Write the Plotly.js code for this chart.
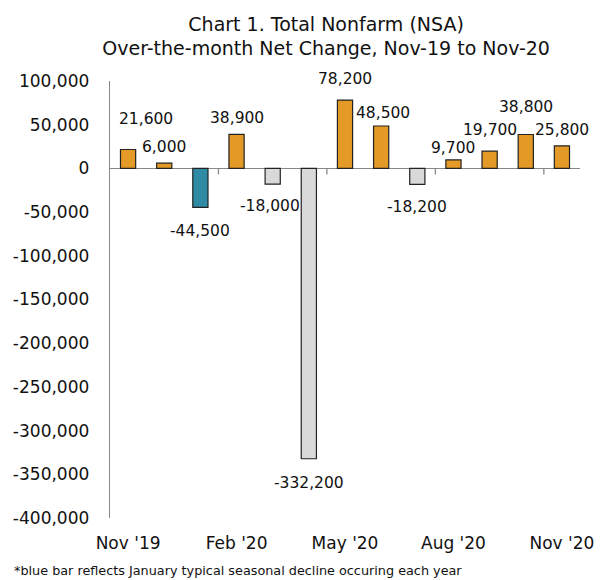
<!DOCTYPE html>
<html>
<head>
<meta charset="utf-8">
<script src="https://cdn.plot.ly/plotly-3.0.1.min.js"></script>
<style>html,body{margin:0;padding:0;background:#fff;}#chart{width:605px;height:580px;}</style>
</head>
<body>
<div id="chart"></div>
<script>
// Data
const months = ["Nov '19","Dec '19","Jan '20","Feb '20","Mar '20","Apr '20","May '20","Jun '20","Jul '20","Aug '20","Sep '20","Oct '20","Nov '20"];
const netChange = [21600, 6000, -44500, 38900, -18000, -332200, 78200, 48500, -18200, 9700, 19700, 38800, 25800];
const tickLabels = ["Nov '19","Feb '20","May '20","Aug '20","Nov '20"];
const yTicks = [100000, 50000, 0, -50000, -100000, -150000, -200000, -250000, -300000, -350000, -400000];

// Styling
const FONT = "DejaVu Sans";
const ORANGE = "#E39A26", BLUE = "#2F8AA4", GRAY = "#D9D9D9";
const colors = months.map((m, i) => netChange[i] >= 0 ? ORANGE : (m.startsWith("Jan") ? BLUE : GRAY));
// label offsets in pixels [dx, dy] from the end of each bar
const labelOffsets = [[18,31],[0,16],[0,-24],[0,16],[-3,-22],[0,-24],[0,21],[2,13],[0,-23],[0,12],[0,21],[0,27],[0,16]];

const fmt = v => v.toLocaleString("en-US");

const trace = {
  type: "bar",
  x: months,
  y: netChange,
  marker: { color: colors, line: { color: "#222", width: 1.2 } },
  hoverinfo: "x+y"
};

const annotations = months.map((m, i) => ({
  x: i, y: netChange[i], xref: "x", yref: "y",
  text: fmt(netChange[i]), showarrow: false,
  xanchor: "center", yanchor: "middle",
  xshift: labelOffsets[i][0], yshift: labelOffsets[i][1],
  font: { family: FONT, size: 15.5, color: "#111" }
}));
annotations.push({
  xref: "paper", yref: "paper", x: -0.208, y: -0.119,
  xanchor: "left", yanchor: "middle", showarrow: false,
  text: "*blue bar reflects January typical seasonal decline occuring each year",
  font: { family: FONT, size: 12.8, color: "#111" }
});

const shapes = [];
for (let i = 3; i < months.length; i += 3) {
  shapes.push({
    type: "line", xref: "x", yref: "y", x0: i - 0.5, x1: i - 0.5,
    ysizemode: "pixel", yanchor: 0, y0: 0, y1: -6,
    line: { color: "#888", width: 1.3 }
  });
}

const layout = {
  width: 605, height: 580,
  margin: { l: 110, r: 25, t: 81, b: 62 },
  paper_bgcolor: "#fff", plot_bgcolor: "#fff",
  showlegend: false,
  bargap: 0.58,
  font: { family: FONT, color: "#111" },
  title: {
    text: "Chart 1. Total Nonfarm (NSA)<br>Over-the-month Net Change, Nov-19 to Nov-20",
    x: 0.539, xref: "container", xanchor: "center",
    y: 0.947, yref: "container", yanchor: "top",
    font: { family: FONT, size: 19, color: "#111" }
  },
  xaxis: {
    type: "category",
    categoryorder: "array", categoryarray: months,
    tickmode: "array", tickvals: tickLabels, ticktext: tickLabels,
    ticks: "", showline: false, showgrid: false, zeroline: false,
    ticklabelstandoff: 13,
    tickfont: { family: FONT, size: 17, color: "#111" },
    range: [-0.5, months.length - 0.5]
  },
  yaxis: {
    range: [-400000, 100000],
    tickmode: "array", tickvals: yTicks, ticktext: yTicks.map(fmt),
    showgrid: false, showline: true, linecolor: "#888", linewidth: 1.3,
    zeroline: true, zerolinecolor: "#888", zerolinewidth: 1.3,
    ticks: "", ticklabelstandoff: 16,
    tickfont: { family: FONT, size: 17, color: "#111" }
  },
  annotations: annotations,
  shapes: shapes
};

Plotly.newPlot("chart", [trace], layout, { displayModeBar: false, staticPlot: true });
</script>
</body>
</html>
